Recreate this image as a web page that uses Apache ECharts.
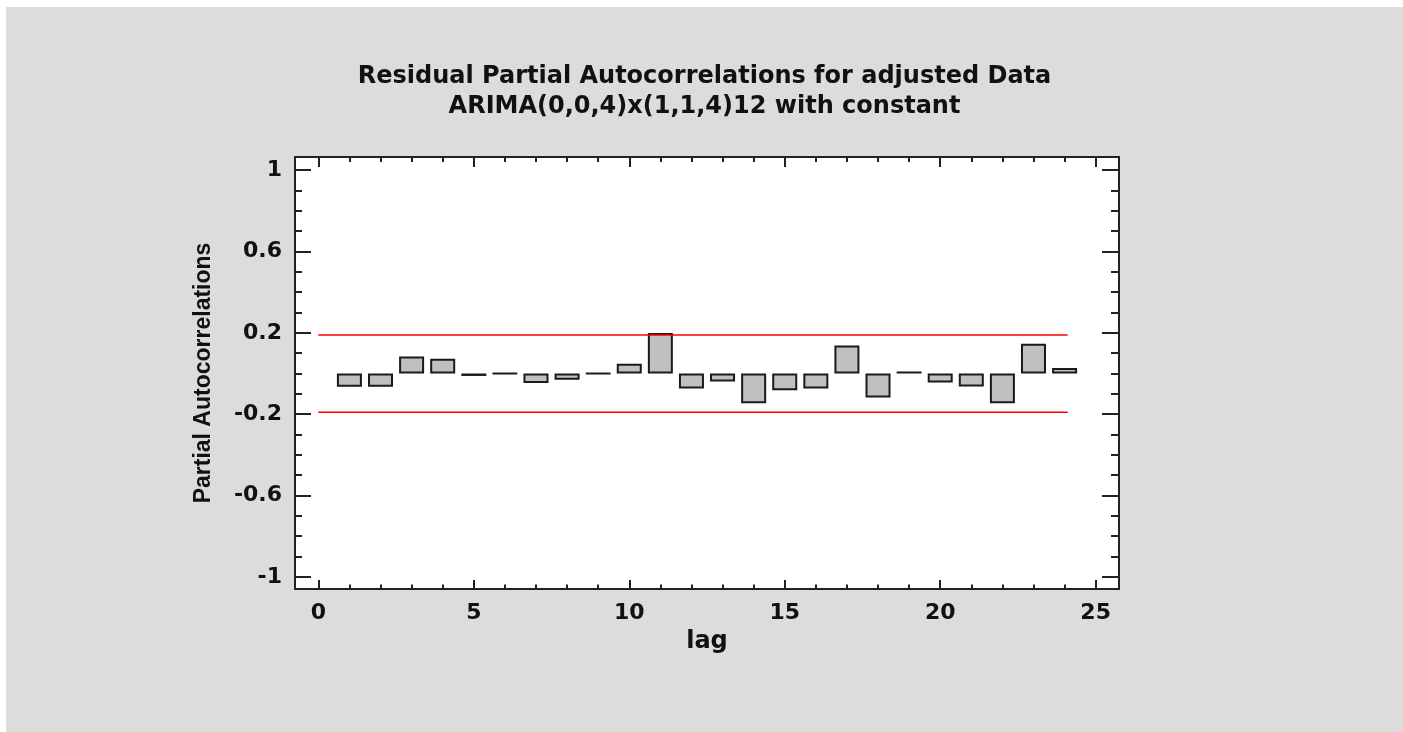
<!DOCTYPE html>
<html>
<head>
<meta charset="utf-8">
<script src="https://cdn.jsdelivr.net/npm/echarts@6/dist/echarts.min.js"></script>
<style>
  html, body { margin: 0; padding: 0; background: #fff; }
  #main { position: absolute; left: 6px; top: 7px; width: 1397px; height: 725px; }
</style>
</head>
<body>
<div id="main"></div>
<script>
// lag 1..24
const lags = [1, 2, 3, 4, 5, 6, 7, 8, 9, 10, 11, 12, 13, 14, 15, 16, 17, 18, 19, 20, 21, 22, 23, 24];
// residual partial autocorrelations
const pacf = [-0.065, -0.065, 0.084, 0.072, -0.012, 0.001, -0.047, -0.031, 0.001, 0.048, 0.199, -0.074,
  -0.039, -0.146, -0.082, -0.074, 0.138, -0.118, 0.01, -0.044, -0.064, -0.146, 0.146, 0.027];
// 95% limits
const upperLimit = [[0, 0.19], [24.1, 0.19]];
const lowerLimit = [[0, -0.19], [24.1, -0.19]];
// ticks
const xLabels = [0, 5, 10, 15, 20, 25];
const xMinor = [];
for (let i = 0; i <= 25; i++) xMinor.push(i);
const yLabels = [-1, -0.6, -0.2, 0.2, 0.6, 1];
const yMinor = [-0.9, -0.8, -0.7, -0.5, -0.4, -0.3, -0.1, 0, 0.1, 0.3, 0.4, 0.5, 0.7, 0.8, 0.9];

const chart = echarts.init(document.getElementById('main'));

const hFont = 'DejaVu Sans';
const frame = { show: true, onZero: false, lineStyle: { color: '#222', width: 2 } };
const xRange = { type: 'value', min: -0.75, max: 25.75 };
const yRange = { type: 'value', min: -1.06, max: 1.065 };

// helper for an axis that only draws ticks (and the frame edge)
function tickAxis(base, pos, values, len, line) {
  return Object.assign({}, base, {
    position: pos,
    axisLine: line ? frame : { show: false, onZero: false },
    axisTick: { show: true, inside: true, length: len, customValues: values, lineStyle: { color: '#222', width: 2 } },
    axisLabel: { show: false },
    splitLine: { show: false }
  });
}

const xBottom = tickAxis(xRange, 'bottom', xLabels, 9, true);
xBottom.axisLabel = {
  show: true, customValues: xLabels, margin: 13,
  fontFamily: hFont, fontWeight: 'bold', fontSize: 22, color: '#111'
};
xBottom.name = 'lag';
xBottom.nameLocation = 'middle';
xBottom.nameGap = 41;
xBottom.nameTextStyle = { fontFamily: hFont, fontWeight: 'bold', fontSize: 24, color: '#111' };

const yLeft = tickAxis(yRange, 'left', yLabels, 16, true);
yLeft.axisLabel = {
  show: true, customValues: yLabels, margin: 13,
  fontFamily: hFont, fontWeight: 'bold', fontSize: 22, color: '#111',
  formatter: v => String(Math.round(v * 10) / 10)
};
yLeft.name = 'Partial Autocorrelations';
yLeft.nameLocation = 'middle';
yLeft.nameRotate = 90;
yLeft.nameGap = 80;
yLeft.nameTextStyle = { fontFamily: 'Liberation Sans', fontWeight: 'bold', fontSize: 23, color: '#111' };

const option = {
  backgroundColor: '#dcdcdc',
  animation: false,
  title: {
    text: 'Residual Partial Autocorrelations for adjusted Data\nARIMA(0,0,4)x(1,1,4)12 with constant',
    left: 'center',
    top: 50,
    textStyle: { fontFamily: hFont, fontWeight: 'bold', fontSize: 24, lineHeight: 30, color: '#111' }
  },
  grid: { left: 289, top: 150, width: 824, height: 432, show: true, backgroundColor: '#fff', borderWidth: 0 },
  xAxis: [
    xBottom,
    tickAxis(xRange, 'bottom', xMinor, 4.5, false),
    tickAxis(xRange, 'top', xLabels, 10, true),
    tickAxis(xRange, 'top', xMinor, 5, false)
  ],
  yAxis: [
    yLeft,
    tickAxis(yRange, 'left', yMinor, 7, false),
    tickAxis(yRange, 'right', yLabels, 17, true),
    tickAxis(yRange, 'right', yMinor, 8, false)
  ],
  series: [
    {
      type: 'bar',
      xAxisIndex: 0,
      yAxisIndex: 0,
      barWidth: 25,
      data: lags.map((l, i) => [l, pacf[i]]),
      itemStyle: { color: '#c0c0c0', borderColor: '#1a1a1a', borderWidth: 2 }
    },
    {
      type: 'line',
      xAxisIndex: 0,
      yAxisIndex: 0,
      data: upperLimit,
      symbol: 'none',
      lineStyle: { color: '#ff0000', width: 1.5 }
    },
    {
      type: 'line',
      xAxisIndex: 0,
      yAxisIndex: 0,
      data: lowerLimit,
      symbol: 'none',
      lineStyle: { color: '#ff0000', width: 1.5 }
    }
  ]
};

chart.setOption(option);
</script>
</body>
</html>
